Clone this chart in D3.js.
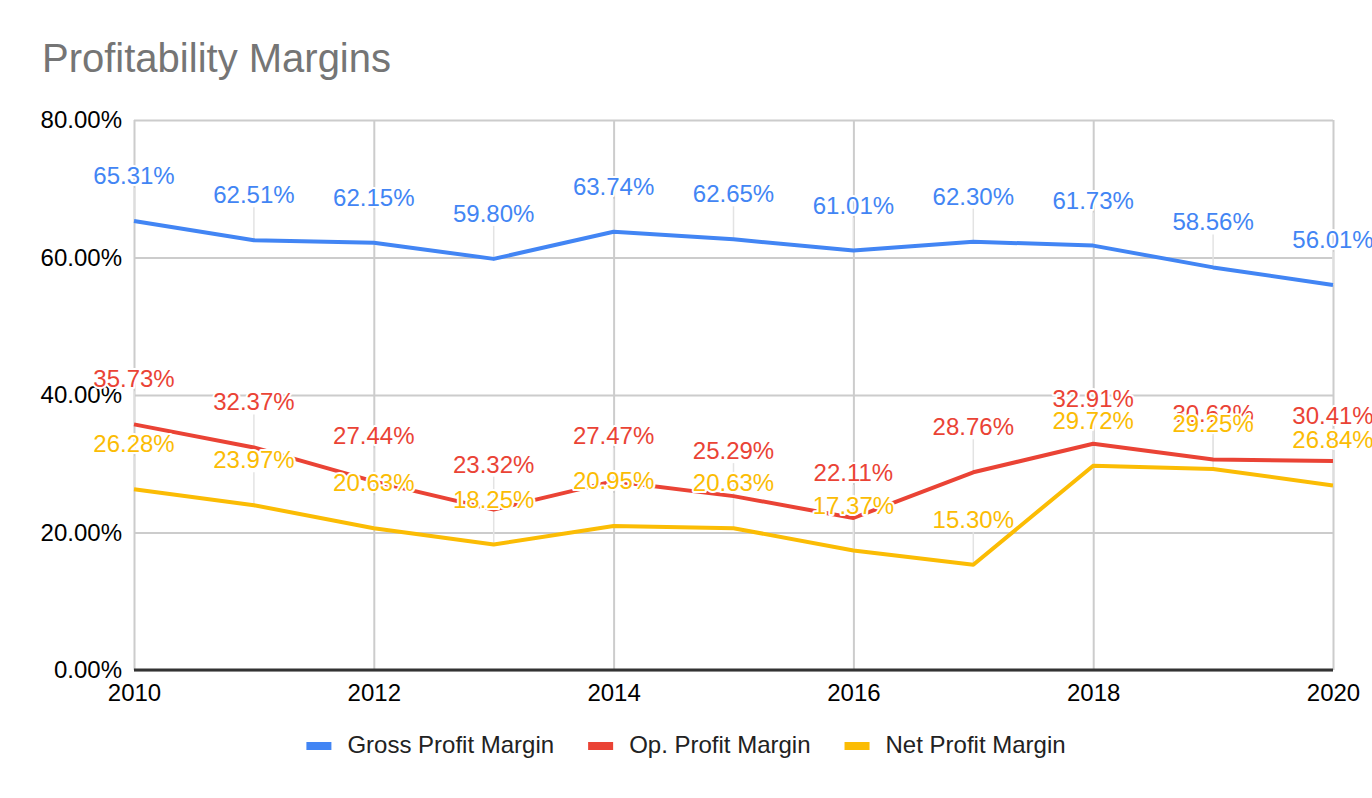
<!DOCTYPE html>
<html>
<head>
<meta charset="utf-8">
<script src="https://cdn.jsdelivr.net/npm/d3@7"></script>
<style>
  html, body { margin: 0; padding: 0; background: #fff; }
  svg text { font-family: "Liberation Sans", Arial, sans-serif; }
</style>
</head>
<body>
<div id="chart"></div>
<script>
// Plot constants
const WIDTH = 1372;
const HEIGHT = 798;

const years = [2010, 2011, 2012, 2013, 2014, 2015, 2016, 2017, 2018, 2019, 2020];
const grossMargin = [65.31, 62.51, 62.15, 59.80, 63.74, 62.65, 61.01, 62.30, 61.73, 58.56, 56.01];
const opMargin = [35.73, 32.37, 27.44, 23.32, 27.47, 25.29, 22.11, 28.76, 32.91, 30.62, 30.41];
const netMargin = [26.28, 23.97, 20.63, 18.25, 20.95, 20.63, 17.37, 15.30, 29.72, 29.25, 26.84];
const seriesNames = ["Gross Profit Margin", "Op. Profit Margin", "Net Profit Margin"];
const seriesColors = ["#4285f4", "#ea4335", "#fbbc04"];
const yTicks = [0, 20, 40, 60, 80];
const xTicks = [2010, 2012, 2014, 2016, 2018, 2020];

const series = [grossMargin, opMargin, netMargin].map((vals, i) => ({
  name: seriesNames[i],
  color: seriesColors[i],
  values: vals.map((v, j) => ({year: years[j], value: v})),
}));

const svg = d3
  .select("#chart")
  .append("svg")
  .attr("width", WIDTH)
  .attr("height", HEIGHT);

const x = d3.scaleLinear().domain([2010, 2020]).range([134, 1333]);
const y = d3.scaleLinear().domain([0, 80]).range([670, 120]);

// Title
svg
  .append("text")
  .attr("x", 42)
  .attr("y", 72)
  .attr("font-size", "40px")
  .attr("fill", "#757575")
  .text("Profitability Margins");

// Horizontal gridlines + y labels
const yAxis = svg
  .append("g")
  .attr("transform", `translate(${x(2010)},0)`)
  .call(
    d3.axisLeft(y)
      .tickValues(yTicks)
      .tickSize(-(x(2020) - x(2010)))
      .tickPadding(12)
      .tickFormat((d) => d.toFixed(2) + "%")
  );
yAxis.select(".domain").remove();
yAxis.selectAll("line").attr("stroke", "#cccccc").attr("stroke-width", 2);
yAxis
  .selectAll("text")
  .attr("font-size", "24px")
  .attr("font-family", '"Liberation Sans", Arial, sans-serif')
  .attr("fill", "#000");

// Vertical gridlines + x labels
const xAxis = svg
  .append("g")
  .attr("transform", `translate(0,${y(0)})`)
  .call(
    d3.axisBottom(x)
      .tickValues(xTicks)
      .tickSize(-(y(0) - y(80)))
      .tickPadding(14)
      .tickFormat(d3.format("d"))
  );
xAxis.select(".domain").remove();
xAxis.selectAll("line").attr("stroke", "#cccccc").attr("stroke-width", 2);
xAxis
  .selectAll("text")
  .attr("font-size", "24px")
  .attr("font-family", '"Liberation Sans", Arial, sans-serif')
  .attr("fill", "#000");

// Baseline
svg
  .append("line")
  .attr("x1", x(2010))
  .attr("x2", x(2020))
  .attr("y1", y(0))
  .attr("y2", y(0))
  .attr("stroke", "#333333")
  .attr("stroke-width", 3);

const LABEL_OFFSET = 37;

// Annotation stems
series.forEach((s) => {
  svg
    .append("g")
    .selectAll("line")
    .data(s.values)
    .join("line")
    .attr("x1", (d) => x(d.year))
    .attr("x2", (d) => x(d.year))
    .attr("y1", (d) => y(d.value) - LABEL_OFFSET + 4)
    .attr("y2", (d) => y(d.value))
    .attr("stroke", "#e3e3e3")
    .attr("stroke-width", 1.5);
});

// Lines
const line = d3
  .line()
  .x((d) => x(d.year))
  .y((d) => y(d.value));

series.forEach((s) => {
  svg
    .append("path")
    .datum(s.values)
    .attr("fill", "none")
    .attr("stroke", s.color)
    .attr("stroke-width", 4)
    .attr("stroke-linejoin", "round")
    .attr("d", line);
});

// Data labels with white halo
series.forEach((s) => {
  svg
    .append("g")
    .selectAll("text")
    .data(s.values)
    .join("text")
    .attr("x", (d) => x(d.year))
    .attr("y", (d) => y(d.value) - LABEL_OFFSET)
    .attr("text-anchor", "middle")
    .attr("font-family", "Roboto, sans-serif")
    .attr("font-size", "24px")
    .attr("fill", s.color)
    .attr("stroke", "#fff")
    .attr("stroke-width", 4)
    .attr("stroke-linejoin", "round")
    .attr("paint-order", "stroke")
    .text((d) => d.value.toFixed(2) + "%");
});

// Legend
const legend = svg.append("g");
const ITEM_GAP = 34;
let cursor = 0;
series.forEach((s) => {
  const item = legend.append("g").attr("transform", `translate(${cursor},0)`);
  item
    .append("rect")
    .attr("x", 0)
    .attr("y", -4)
    .attr("width", 25)
    .attr("height", 8)
    .attr("fill", s.color);
  const t = item
    .append("text")
    .attr("x", 41)
    .attr("y", 7)
    .attr("font-size", "24px")
    .attr("fill", "#222")
    .text(s.name);
  cursor += 41 + t.node().getComputedTextLength() + ITEM_GAP;
});
const legendWidth = cursor - ITEM_GAP;
legend.attr("transform", `translate(${686 - legendWidth / 2},746)`);
</script>
</body>
</html>
